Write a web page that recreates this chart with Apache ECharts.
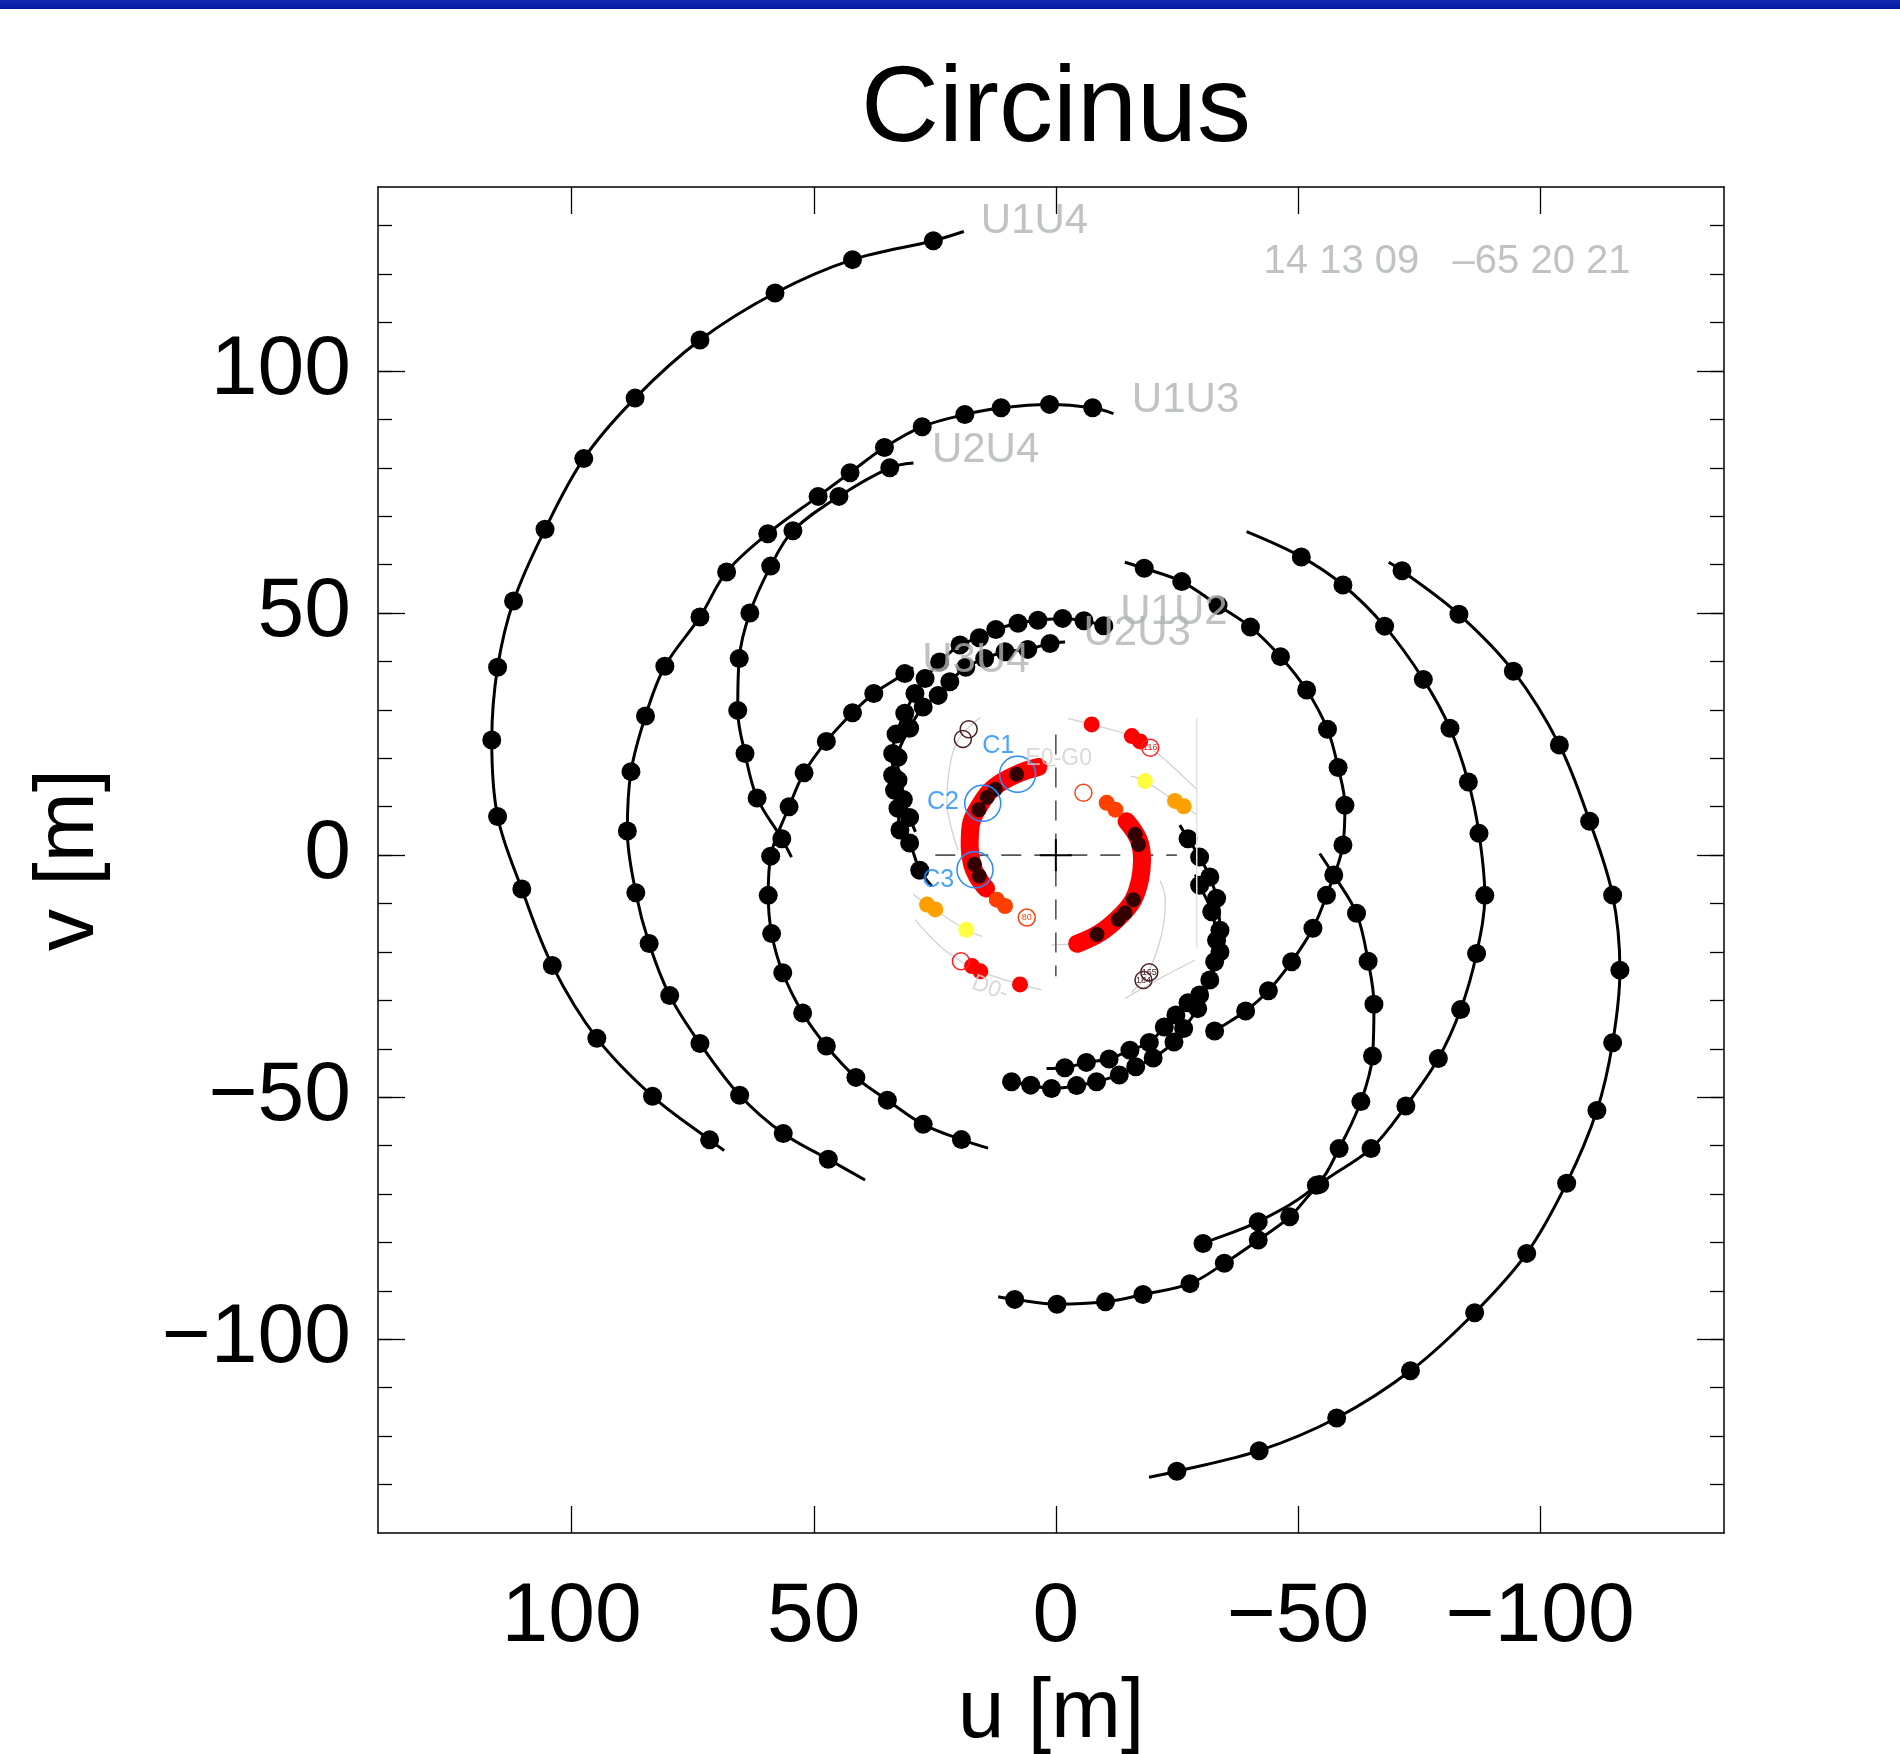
<!DOCTYPE html>
<html><head><meta charset="utf-8">
<script src="https://cdn.jsdelivr.net/npm/echarts@6/dist/echarts.min.js"></script>
<style>html,body{margin:0;padding:0;background:#fff}#c{width:1900px;height:1754px}</style>
</head><body><div id="c"></div>
<script>
// ---------------- DATA (u, v in metres) ----------------
const xTicks = [100, 50, 0, -50, -100];
const yTicks = [-100, -50, 0, 50, 100];
const yMinorTicks = [-130,-120,-110,-100,-90,-80,-70,-60,-50,-40,-30,-20,-10,0,10,20,30,40,50,60,70,80,90,100,110,120,130];

// UT baseline tracks: [track start, track end] and observed points
const u1u4L_ends = [[19.0,128.8],[68.5,-61.0]];
const u1u4L = [[25.3,126.9],[42.0,123.0],[58.0,116.1],[73.5,106.4],[86.9,94.4],[97.5,81.9],[105.5,67.3],[112.0,52.5],[115.3,38.8],[116.5,23.8],[115.3,8.0],[110.3,-7.0],[104.0,-22.8],[94.8,-37.8],[83.3,-49.8],[71.5,-58.8]];
const u1u4R_ends = [[-68.75,60.5],[-19.25,-128.5]];
const u1u4R = [[-71.5,58.75],[-83.25,49.75],[-94.5,38.0],[-104.0,22.75],[-110.25,7.0],[-115.0,-8.25],[-116.5,-23.75],[-115.0,-38.75],[-111.75,-52.75],[-105.5,-67.75],[-97.25,-82.25],[-86.5,-94.5],[-73.25,-106.5],[-58.0,-116.25],[-42.0,-123.0],[-25.0,-127.25]];

const u1u3L_ends = [[-11.9,91.2],[39.4,-67.1]];
const u1u3L = [[-7.6,92.4],[1.3,93.1],[11.3,92.4],[18.8,91.0],[27.6,88.5],[35.4,84.2],[42.5,79.0],[49.1,74.1],[59.5,66.4],[68.0,58.5],[73.5,49.2],[80.75,39.0],[84.75,28.75],[87.75,17.25],[88.5,5.0],[86.75,-7.75],[84.0,-18.25],[79.75,-29.0],[73.5,-38.9],[65.3,-49.6],[56.3,-57.5],[47.0,-62.8]];
const u1u3R_ends = [[-39.4,66.8],[11.9,-91.2]];
const u1u3R = [[-50.7,61.6],[-59.3,55.8],[-67.9,47.3],[-75.9,36.3],[-81.4,26.2],[-85.2,15.1],[-87.4,4.5],[-88.6,-8.3],[-86.9,-20.3],[-83.6,-31.9],[-79.0,-42.0],[-72.3,-51.8],[-65.1,-60.6],[-54.5,-68.0],[-48.3,-74.7],[-41.8,-79.5],[-34.8,-84.3],[-27.7,-88.5],[-18.0,-90.75],[-10.25,-92.25],[-0.25,-92.75],[8.5,-91.75]];

const u2u4L_ends = [[29.4,81.0],[54.6,-0.4]];
const u2u4L = [[34.3,80.0],[44.8,74.1],[54.3,67.0],[58.9,59.7],[63.2,50.0],[65.4,40.6],[65.7,29.9],[64.2,21.0],[61.7,11.8],[56.6,3.4]];
const u2u4R_ends = [[-54.5,0.35],[-29.4,-81.0]];
const u2u4R = [[-57.4,-4.1],[-62.1,-12.0],[-64.5,-21.9],[-65.7,-30.8],[-65.4,-41.5],[-63.0,-50.9],[-58.5,-60.6],[-53.8,-68.2],[-41.8,-75.7],[-30.4,-80.2]];

const u3u4L_ends = [[29.5,38.8],[14.0,-60.5]];
const u3u4L = [[31.2,37.5],[37.6,33.4],[42.0,29.4],[47.4,23.5],[52.0,17.0],[55.1,10.0],[58.9,-0.2],[59.4,-8.3],[58.7,-16.2],[56.4,-24.3],[52.3,-32.6],[47.4,-39.4],[41.3,-45.9],[34.8,-50.6],[27.4,-55.6],[19.5,-58.75]];
const u3u4R_ends = [[-14.25,60.5],[-31.2,-37.5]];
const u3u4R = [[-18.25,59.25],[-26.0,56.5],[-33.5,51.6],[-40.2,47.1],[-46.4,41.0],[-51.8,34.1],[-56.1,26.0],[-58.3,18.1],[-59.7,10.3],[-59.3,2.1],[-55.9,-8.3],[-53.1,-15.1],[-48.7,-22.0],[-43.9,-28.0],[-39.2,-32.2],[-32.8,-36.3]];

const u1u2L_ends = [[-11.8,46.9],[25.6,-6.4]];
const u1u2L = [[-9.9,47.4],[-5.8,48.4],[-1.4,48.9],[3.7,48.5],[7.8,47.9],[12.4,46.6],[15.8,44.9],[19.8,43.4],[24.0,39.9],[27.0,36.5],[29.1,33.4],[31.2,29.3],[33.0,25.0],[33.7,21.0],[33.7,16.5],[33.3,13.4],[32.6,9.7],[32.2,5.2],[30.2,2.5],[28.1,-3.1]];
const u1u2R_ends = [[10.5,-46.6],[-25.6,6.2]];
const u1u2R = [[9.15,-46.8],[5.2,-47.5],[0.9,-48.2],[-4.3,-47.6],[-8.4,-46.8],[-13.1,-45.4],[-16.5,-43.7],[-20.1,-41.9],[-24.4,-38.6],[-26.4,-35.8],[-29.3,-31.7],[-31.8,-25.8],[-33.9,-20.0],[-33.9,-15.5],[-33.2,-8.9],[-31.8,-4.5],[-29.7,-0.4],[-27.3,3.4]];

const u2u3L_ends = [[-1.9,44.0],[29.0,4.8]];
const u2u3L = [[1.2,43.7],[5.8,42.5],[10.5,42.0],[14.7,40.6],[18.6,38.8],[21.9,35.8],[24.3,33.0],[27.4,30.6],[30.2,26.2],[32.6,20.2],[32.6,15.5],[31.5,11.5],[30.2,7.8]];
const u2u3R_ends = [[1.92,-44.05],[-28.8,-4.0]];
const u2u3R = [[-1.86,-43.9],[-6.3,-42.8],[-11.0,-42.1],[-15.3,-40.3],[-19.3,-38.7],[-22.4,-35.5],[-24.8,-33.0],[-27.3,-30.5],[-29.7,-28.9],[-32.8,-22.0],[-33.2,-17.6],[-32.2,-11.7],[-29.7,-6.2]];

// track labels and header text
const trackLabelText = ['U1U4','U1U3','U2U4','U1U2','U2U3','U3U4'];
const trackLabelAt  = [[15.6,130.8],[-15.6,94.0],[25.7,83.6],[-13.2,50.2],[-5.6,45.7],[27.7,40.2]];
const coordText = '14 13 09   \u201365 20 21';
const coordAt = [-42.8,122.6];

// inset (auxiliary telescopes)
const bandL = [[3.6,18.2],[8.1,16.7],[12.9,13.9],[15.6,10.5],[17.6,6.0],[17.8,1.9],[17.3,-1.9],[16.3,-4.3],[14.4,-6.9]];
const bandR = [[-14.6,7.0],[-17.1,3.2],[-17.8,-0.9],[-17.4,-5.0],[-16.0,-9.2],[-13.3,-12.6],[-9.2,-16.0],[-4.4,-18.3]];
const darkDots = [[8.1,16.7],[12.5,13.6],[14.2,11.9],[15.9,9.4],[16.8,-1.9],[15.8,-4.3],[-16.4,4.3],[-17.1,2.2],[-16.0,-9.2],[-14.3,-11.9],[-12.9,-13.3],[-8.5,-16.4]];
const redDots = [[-7.4,27.0],[-15.7,24.6],[-17.4,23.5],[17.3,-22.9],[15.6,-24.0],[7.4,-26.7]];
const orangeRedDots = [[12.2,-9.2],[10.5,-10.5],[-12.3,9.4],[-10.5,10.8]];
const orangeDots = [[26.6,-10.2],[24.9,-11.2],[-24.6,11.2],[-26.4,10.1]];
const yellowDots = [[18.5,-15.4],[-18.4,15.3]];
const openRed = [[-19.5,22.2,'116'],[19.6,-21.9,'']];
const openOrangeRed = [[6.0,-12.9,'80'],[-5.7,12.9,'']];
const openBrown = [[18.0,26.0,''],[19.2,24.0,''],[-19.3,-24.2,'165'],[-18.1,-25.8,'184']];
const blueCircles = [[7.9,16.7],[15.1,10.7],[16.7,-3.0]];
const blueLabelText = ['C1','C2','C3'];
const blueLabelAt = [[11.9,22.5],[23.3,11.0],[24.3,-5.2]];
const grayArcs = [
  [[15.6,28.4],[20.1,23.9],[22.2,16.3],[22.5,10.8],[21.5,5.3],[20.2,1.0]],
  [[-21.5,-5.3],[-22.6,-9.0],[-22.3,-14.0],[-20.8,-20.0],[-18.6,-25.0],[-15.6,-28.4]],
  [[-2.5,28.2],[-7.4,27.0],[-15.7,24.6],[-19.5,22.2],[-22.9,19.4],[-29.1,13.6]],
  [[29.1,-13.3],[23.9,-18.8],[19.6,-21.9],[15.6,-24.0],[7.4,-26.7],[3.0,-27.8]],
  [[-15.5,16.3],[-18.4,15.3],[-24.6,11.2],[-29.1,8.4]],
  [[29.5,-8.0],[26.6,-10.2],[18.5,-15.4],[15.2,-16.8]],
  [[-14.3,-29.6],[-22.2,-25.1],[-28.7,-21.7]],
  [[3.6,18.2],[0.0,18.6]],
  [[-4.4,-18.3],[1.0,-18.6]]
];
const insetBorder = [[-29.1,28.4],[-29.1,-19.0]];
const crossH = [[24.9,0],[-25.0,0]];
const crossV = [[0,24.9],[0,-25.0]];
const centerH = [[3.3,0],[-3.3,0]];
const centerV = [[0,3.3],[0,-3.3]];
const insetText = [['E0-G0',-0.6,19.9,0],['D0-',13.6,-27.5,-0.35]];

// ---------------- CHART ----------------
const FONT = '"Liberation Sans", Arial, Helvetica, sans-serif';
const fmt = v => (v < 0 ? '\u2212' + (-v) : String(v));
const chart = echarts.init(document.getElementById('c'), null, {renderer:'canvas', width:1900, height:1754});
const series = [];
function addTrack(ends, dots){
  series.push({type:'line', data:[ends[0]].concat(dots, [ends[1]]), smooth:0.35, symbol:'none',
    lineStyle:{color:'#000', width:3, opacity:1}, z:2, silent:true});
  series.push({type:'scatter', data:dots, symbol:'circle', symbolSize:19, itemStyle:{color:'#000', opacity:1}, z:3, silent:true});
}
[[u1u4L_ends,u1u4L],[u1u4R_ends,u1u4R],[u1u3L_ends,u1u3L],[u1u3R_ends,u1u3R],[u2u4L_ends,u2u4L],[u2u4R_ends,u2u4R],
 [u3u4L_ends,u3u4L],[u3u4R_ends,u3u4R],[u1u2L_ends,u1u2L],[u1u2R_ends,u1u2R],[u2u3L_ends,u2u3L],[u2u3R_ends,u2u3R]]
 .forEach(t => addTrack(t[0], t[1]));

// inset lines
grayArcs.forEach(a => series.push({type:'line', data:a, smooth:0.4, symbol:'none', lineStyle:{color:'#d2d2d2', width:1.3}, z:4, silent:true}));
series.push({type:'line', data:insetBorder, symbol:'none', lineStyle:{color:'#e4e4e4', width:1.5}, z:4, silent:true});
[crossH, crossV].forEach(a => series.push({type:'line', data:a, symbol:'none', lineStyle:{color:'#555', width:1.6, type:[20,13]}, z:5, silent:true}));
[centerH, centerV].forEach(a => series.push({type:'line', data:a, symbol:'none', lineStyle:{color:'#000', width:2}, z:5, silent:true}));
// bands
[bandL, bandR].forEach(a => series.push({type:'line', data:a, smooth:0.4, symbol:'none', lineStyle:{color:'#ff0000', width:18, cap:'round', join:'round', opacity:1}, z:6, silent:true}));
function dots(d, color, size, z){ series.push({type:'scatter', data:d, symbolSize:size, itemStyle:{color:color, opacity:1}, z:z, silent:true}); }
dots(redDots, '#ff0000', 16, 7);
dots(orangeRedDots, '#ff4000', 16, 7);
dots(orangeDots, '#ffa000', 16, 7);
dots(yellowDots, '#ffff40', 16, 7);
dots(darkDots, '#330000', 15, 8);
function openCircles(d, color){
  series.push({type:'scatter', data:d.map(p => ({value:[p[0],p[1]], name:p[2]})), symbolSize:17,
    itemStyle:{color:'rgba(0,0,0,0)', borderColor:color, borderWidth:1.5, opacity:1},
    label:{show:true, position:'inside', formatter:p => p.name, fontSize:9, color:color, fontFamily:FONT}, z:8, silent:true});
}
openCircles(openRed, '#ff2020');
openCircles(openOrangeRed, '#ff4010');
openCircles(openBrown, '#4a2222');
series.push({type:'scatter', data:blueCircles, symbolSize:36, itemStyle:{color:'rgba(0,0,0,0)', borderColor:'#2a8cff', borderWidth:1.5, opacity:1}, z:9, silent:true});
series.push({type:'scatter', data:blueLabelAt.map((p,i) => ({value:p, name:blueLabelText[i]})), symbolSize:1,
  itemStyle:{color:'rgba(0,0,0,0)'}, label:{show:true, position:'inside', formatter:p => p.name, fontSize:25, color:'#1e8cff', fontFamily:FONT}, z:10, silent:true});
series.push({type:'scatter', data:insetText.map(p => ({value:[p[1],p[2]], name:p[0], label:{rotate:p[3]*180/Math.PI}})), symbolSize:1,
  itemStyle:{color:'rgba(0,0,0,0)'}, label:{show:true, position:'inside', formatter:p => p.name, fontSize:23, color:'#cfcfcf', fontFamily:FONT}, z:9, silent:true});
// track labels
series.push({type:'scatter', data:trackLabelAt.map((p,i) => ({value:p, name:trackLabelText[i]})).concat([{value:coordAt, name:coordText, label:{fontSize:40}}]),
  symbolSize:1, itemStyle:{color:'rgba(0,0,0,0)'},
  label:{show:true, position:'right', distance:0, formatter:p => p.name, fontSize:42, color:'#b0b4b4', fontFamily:FONT}, z:10, silent:true});

const axisCommon = {type:'value', min:-140, max:138, splitLine:{show:false}};
const option = {
  animation:false,
  backgroundColor:'#fff',
  title:{text:'Circinus', left:1051, top:52, textAlign:'center',
    textStyle:{fontSize:108, fontWeight:'normal', color:'#000', fontFamily:FONT}},
  graphic:[{type:'rect', shape:{x:0, y:0, width:1900, height:9},
    style:{fill:new echarts.graphic.LinearGradient(0,0,0,1,[{offset:0,color:'#1428b0'},{offset:1,color:'#0519a0'}])}}],
  grid:{left:378, top:187, width:1346, height:1346, containLabel:false, outerBoundsMode:'none'},
  xAxis:[
    {type:'value', min:-138, max:140, inverse:true, position:'bottom', splitLine:{show:false},
     axisLine:{show:true, onZero:false, lineStyle:{color:'#000', width:1.5}},
     axisTick:{show:true, inside:true, length:27, customValues:xTicks, lineStyle:{color:'#000', width:1.3}},
     axisLabel:{show:true, customValues:xTicks, formatter:fmt, margin:43, fontSize:84, color:'#000', fontFamily:FONT},
     name:'u [m]', nameLocation:'middle', nameGap:139, nameTextStyle:{fontSize:84, color:'#000', fontFamily:FONT}},
    {type:'value', min:-138, max:140, inverse:true, position:'top', splitLine:{show:false},
     axisLine:{show:true, onZero:false, lineStyle:{color:'#000', width:1.5}},
     axisTick:{show:true, inside:true, length:27, customValues:xTicks, lineStyle:{color:'#000', width:1.3}},
     axisLabel:{show:false}}
  ],
  yAxis:[
    Object.assign({}, axisCommon, {position:'left',
     axisLine:{show:true, onZero:false, lineStyle:{color:'#000', width:1.5}},
     axisTick:{show:true, inside:true, length:27, customValues:yTicks, lineStyle:{color:'#000', width:1.3}},
     axisLabel:{show:true, customValues:yTicks, formatter:fmt, margin:27, fontSize:84, color:'#000', fontFamily:FONT},
     name:'v [m]', nameLocation:'middle', nameRotate:90, nameGap:266, nameTextStyle:{fontSize:84, color:'#000', fontFamily:FONT}}),
    Object.assign({}, axisCommon, {position:'left', axisLine:{show:false, onZero:false},
     axisTick:{show:true, inside:true, length:14, customValues:yMinorTicks, lineStyle:{color:'#000', width:1.3}},
     axisLabel:{show:false}}),
    Object.assign({}, axisCommon, {position:'right',
     axisLine:{show:true, onZero:false, lineStyle:{color:'#000', width:1.5}},
     axisTick:{show:true, inside:true, length:27, customValues:yTicks, lineStyle:{color:'#000', width:1.3}},
     axisLabel:{show:false}}),
    Object.assign({}, axisCommon, {position:'right', axisLine:{show:false, onZero:false},
     axisTick:{show:true, inside:true, length:14, customValues:yMinorTicks, lineStyle:{color:'#000', width:1.3}},
     axisLabel:{show:false}})
  ],
  series: series
};
chart.setOption(option);
</script></body></html>
